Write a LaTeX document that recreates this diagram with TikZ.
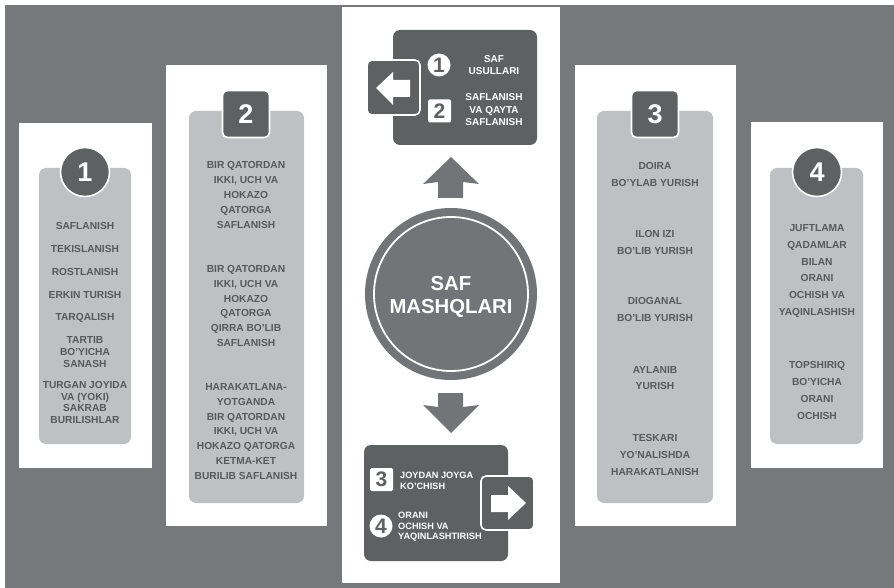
\documentclass[tikz,border=0pt]{standalone}
\usepackage{fontspec}
\setmainfont{Liberation Sans}
\definecolor{bggray}{HTML}{77787B}
\definecolor{ringgray}{HTML}{737477}
\definecolor{darkbox}{HTML}{5F6062}
\definecolor{lightbox}{HTML}{BFC0C4}
\definecolor{inktext}{HTML}{58595B}
\newcount\blockno
\newcommand{\textblock}[4]{\global\advance\blockno by 1\relax
  \node[listtext,font={\bfseries\fontsize{10.2}{#3}\selectfont},yshift=-1pt] (block\the\blockno) at (#1,#2) {#4};}
\begin{document}
\begin{tikzpicture}[x=1pt,y=-1pt,
  panel/.style={fill=white,draw=none},
  lightcard/.style={fill=lightbox,draw=none,rounded corners=7pt},
  darkcard/.style={fill=darkbox,draw=none,rounded corners=7pt},
  tab/.style={fill=darkbox,draw=white,line width=1.6pt,rounded corners=5pt},
  badge/.style={circle,fill=darkbox,draw=white,line width=1.6pt,minimum size=49pt,inner sep=0pt,text=white,font={\bfseries\fontsize{27}{27}\selectfont}},
  squarebadge/.style={rectangle,rounded corners=5pt,fill=darkbox,draw=white,line width=1.6pt,minimum size=0pt,inner sep=0pt,text=white,font={\bfseries\fontsize{27}{27}\selectfont}},
  minidisc/.style={circle,fill=white,minimum size=23pt,inner sep=0pt,text=darkbox,font={\bfseries\fontsize{21}{21}\selectfont}},
  minisquare/.style={rectangle,rounded corners=1.5pt,fill=white,minimum size=23pt,inner sep=0pt,text=darkbox,font={\bfseries\fontsize{21}{21}\selectfont}},
  listtext/.style={align=center,inner sep=0pt,text=inktext},
  boxtext/.style={inner sep=0pt,text=white,font={\bfseries\fontsize{10}{12.5}\selectfont}},
  lowtext/.style={inner sep=0pt,text=white,align=left,anchor=west,font={\bfseries\fontsize{9.2}{10.5}\selectfont}},
  bigarrow/.style={fill=ringgray,draw=none},
  whitearrow/.style={fill=white,draw=none}]
\useasboundingbox (0,0) rectangle (894,588);
\fill[white] (0,0) rectangle (894,588);
\fill[bggray] (5,5) rectangle (894,588);
% panels
\fill[panel] (341.5,7) rectangle (560,583);
\fill[panel] (18.5,123) rectangle (151.5,468);
\fill[panel] (165.5,65) rectangle (327,526);
\fill[panel] (574.5,65) rectangle (736,526);
\fill[panel] (750.5,122.5) rectangle (883,468);
% light cards
\fill[lightcard] (39,168) rectangle (131,444);
\fill[lightcard] (189,111) rectangle (304,503);
\fill[lightcard] (597,111) rectangle (713,503);
\fill[lightcard] (770,168) rectangle (863,444);
% number badges
\node[badge] (n1) at (85,172) {1};
\node[squarebadge,minimum width=47pt,minimum height=47pt] (n2) at (246,114) {2};
\node[squarebadge,minimum width=47pt,minimum height=47pt] (n3) at (655,114) {3};
\node[badge] (n4) at (817,172) {4};
% panel 1
\textblock{85}{225}{12}{SAFLANISH}
\textblock{85}{248}{12}{TEKISLANISH}
\textblock{85}{271}{12}{ROSTLANISH}
\textblock{85}{294}{12}{ERKIN TURISH}
\textblock{85}{316.5}{12}{TARQALISH}
\textblock{85}{351}{12}{TARTIB\\BO'YICHA\\SANASH}
\textblock{85}{401.5}{11.6}{TURGAN JOYIDA\\VA (YOKI)\\SAKRAB\\BURILISHLAR}
% panel 2
\textblock{246}{194}{14.9}{BIR QATORDAN\\IKKI, UCH VA\\HOKAZO\\QATORGA\\SAFLANISH}
\textblock{246}{305}{14.8}{BIR QATORDAN\\IKKI, UCH VA\\HOKAZO\\QATORGA\\QIRRA BO'LIB\\SAFLANISH}
\textblock{246}{430.5}{14.8}{HARAKATLANA-\\YOTGANDA\\BIR QATORDAN\\IKKI, UCH VA\\HOKAZO QATORGA\\KETMA-KET\\BURILIB SAFLANISH}
% panel 3
\textblock{655}{173.5}{16.8}{DOIRA\\BO'YLAB YURISH}
\textblock{655}{241.5}{16.8}{ILON IZI\\BO'LIB YURISH}
\textblock{655}{308.5}{16.8}{DIOGANAL\\BO'LIB YURISH}
\textblock{655}{377}{16.8}{AYLANIB\\YURISH}
\textblock{655}{454}{16.8}{TESKARI\\YO'NALISHDA\\HARAKATLANISH}
% panel 4
\textblock{817}{270}{16.9}{JUFTLAMA\\QADAMLAR\\BILAN\\ORANI\\OCHISH VA\\YAQINLASHISH}
\textblock{817}{389.5}{17}{TOPSHIRIQ\\BO'YICHA\\ORANI\\OCHISH}
% centre circle
\node[circle,fill=ringgray,minimum size=172pt,inner sep=0pt] (hub) at (451,294) {};
\draw[white,line width=1.8pt] (hub.center) circle (77pt);
\node[inner sep=0pt,align=center,text=white,font={\bfseries\fontsize{20.3}{23}\selectfont}] (hubtext) at (451,297) {SAF\\MASHQLARI};
% big arrows
\fill[bigarrow] (451,157) -- (479,184) -- (463,182) -- (463,198) -- (438,198) -- (438,182) -- (423,184) -- cycle;
\fill[bigarrow] (451,433) -- (479,405) -- (463,407) -- (463,393) -- (438,393) -- (438,407) -- (423,405) -- cycle;
% top dark box
\fill[darkcard] (393,30) rectangle (537,145);
\draw[tab] (367,60) rectangle (420,115);
\fill[whitearrow] (376,88) -- (393,72) -- (393,80) -- (410,80) -- (410,97) -- (393,97) -- (393,105) -- cycle;
\node[minidisc] (m1) at (439,65) {1};
\node[minisquare] (m2) at (439.5,111) {2};
\node[boxtext,align=center] (t1) at (494,65) {SAF\\USULLARI};
\node[boxtext,align=center] (t2) at (494,110) {SAFLANISH\\VA QAYTA\\SAFLANISH};
% bottom dark box
\fill[darkcard] (364,445) rectangle (508,561);
\draw[tab] (481,476) rectangle (534,530);
\fill[whitearrow] (526,503) -- (508,486) -- (508,495) -- (491,495) -- (491,512) -- (508,512) -- (508,520) -- cycle;
\node[minisquare] (m3) at (381.5,479.5) {3};
\node[minidisc] (m4) at (381,526) {4};
\node[lowtext] (t3) at (400,481) {JOYDAN JOYGA\\KO'CHISH};
\node[lowtext] (t4) at (398,527) {ORANI\\OCHISH VA\\YAQINLASHTIRISH};
\end{tikzpicture}
\end{document}
